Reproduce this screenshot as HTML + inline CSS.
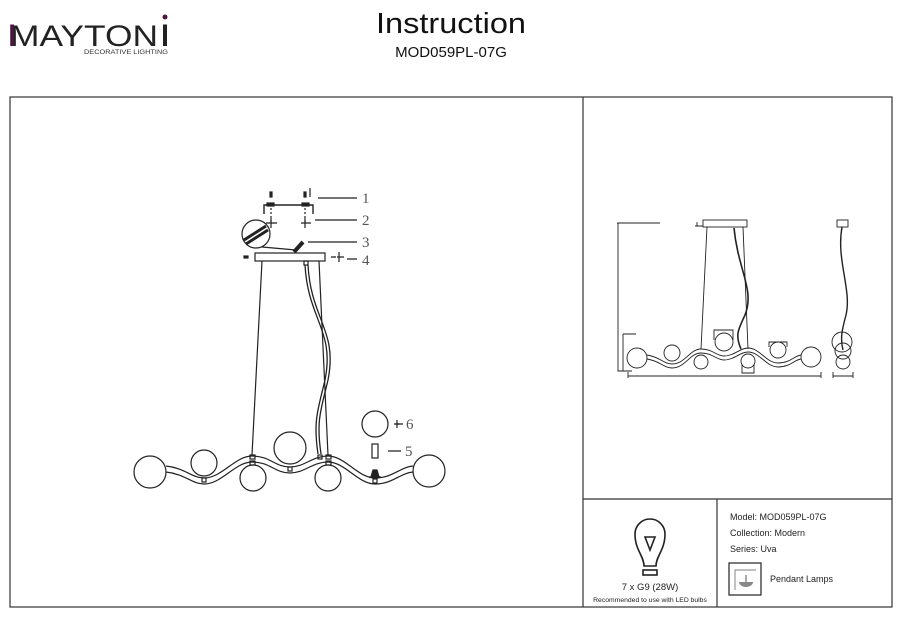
<!DOCTYPE html>
<html><head><meta charset="utf-8"><style>
html,body{margin:0;padding:0;background:#fff;}
svg{display:block;}
text{font-family:"Liberation Sans",sans-serif;}
text.serif{font-family:"Liberation Serif",serif;}
</style></head><body>
<svg width="909" height="620" viewBox="0 0 909 620" xmlns="http://www.w3.org/2000/svg">
<!-- header -->
<text x="10" y="46" font-size="30" fill="#222" textLength="148" lengthAdjust="spacingAndGlyphs">MAYTON</text>
<rect x="10.2" y="24.5" width="3.8" height="21.5" fill="#4a1840"/>
<rect x="163" y="24.5" width="4" height="21.5" fill="#222"/>
<circle cx="165" cy="17" r="2.5" fill="#4a1840"/>
<text x="84" y="54" font-size="6" fill="#333" textLength="84" lengthAdjust="spacingAndGlyphs">DECORATIVE LIGHTING</text>
<text x="451" y="33" font-size="29" fill="#111" text-anchor="middle" textLength="150" lengthAdjust="spacingAndGlyphs">Instruction</text>
<text x="451" y="57" font-size="15" fill="#111" text-anchor="middle">MOD059PL-07G</text>

<!-- frame -->
<g fill="none" stroke="#333" stroke-width="1.2">
<rect x="10" y="97" width="882" height="510"/>
<line x1="583" y1="97" x2="583" y2="607"/>
<line x1="583" y1="499" x2="892" y2="499"/>
<line x1="717" y1="499" x2="717" y2="607"/>
</g>

<!-- main drawing -->
<g fill="none" stroke="#222" stroke-width="1.2">
<path d="M264,214 V205 H313 V214" stroke-width="1.4"/>
<rect x="267" y="203" width="7" height="3" fill="#222"/>
<rect x="302" y="203" width="7" height="3" fill="#222"/>
<rect x="270" y="192" width="2" height="5" fill="#222"/>
<rect x="304" y="192" width="2" height="5" fill="#222"/>
<line x1="310" y1="188" x2="310" y2="197"/>
<line x1="271" y1="208" x2="271" y2="222" stroke-dasharray="2,2"/>
<line x1="305" y1="208" x2="305" y2="222" stroke-dasharray="2,2"/>
<path d="M266,223 H277 M271,218 V228 M301,223 H311 M305,218 V228"/>
<circle cx="256" cy="234" r="14"/>
<path d="M244,240 L266,226 M246,244 L268,230" stroke-width="3"/>
<path d="M262,247 L296,250"/>
<path d="M294,252 L303,242" stroke-width="4"/>
<rect x="255" y="253" width="70" height="8"/>
<rect x="244" y="256" width="4" height="2" fill="#222"/>
<path d="M331,257 H336 M339,252 V262 M337,257 H344"/>
<line x1="262" y1="261" x2="252" y2="455"/>
<line x1="319" y1="261" x2="328" y2="455"/>
<rect x="304" y="261" width="4" height="4"/>
<path d="M305,265 C308,320 335,330 325,380 C318,410 313,420 318,454" stroke-width="1.3"/>
<path d="M308,265 C311,320 338,330 328,380 C321,410 316,420 321,454" stroke-width="1.3"/>
<path d="M318,198 H357 M315,220 H357 M308,242 H357 M347,259 H357 M394,424 H403 M388,451 H401"/>
<circle cx="150" cy="472" r="16"/>
<circle cx="204" cy="463" r="13"/>
<circle cx="253" cy="478" r="13"/>
<circle cx="290" cy="448" r="16"/>
<circle cx="328" cy="478" r="13"/>
<circle cx="429" cy="471" r="16"/>
<circle cx="375" cy="424" r="13"/>
<path d="M166,466 C185,468 192,478 204,478 C222,478 235,456 252,456 C270,456 275,467 290,467 C305,467 312,456 328,456 C345,456 358,478 375,478 C393,478 400,467 413,466"/>
<path d="M166,472 C185,474 192,484 204,484 C222,484 235,462 252,462 C270,462 275,473 290,473 C305,473 312,462 328,462 C345,462 358,484 375,484 C393,484 400,473 413,472"/>
<rect x="202" y="478" width="4" height="4"/>
<rect x="250" y="455" width="5" height="4"/>
<rect x="250" y="461" width="5" height="4"/>
<rect x="288" y="467" width="4" height="4"/>
<rect x="326" y="455" width="5" height="4"/>
<rect x="326" y="461" width="5" height="4"/>
<rect x="373" y="479" width="4" height="4"/>
<rect x="318" y="455" width="4" height="4"/>
<rect x="372" y="444" width="6" height="14"/>
<path d="M369,477 H381 M371,477 L373,470 H377 L379,477" fill="#222"/>
<path d="M395,424 H400 M397,420 V428"/>
</g>
<g font-size="15" fill="#555">
<text class="serif" x="362" y="203">1</text>
<text class="serif" x="362" y="225">2</text>
<text class="serif" x="362" y="247">3</text>
<text class="serif" x="362" y="265">4</text>
<text class="serif" x="405" y="456">5</text>
<text class="serif" x="406" y="429">6</text>
</g>

<!-- right view -->
<g fill="none" stroke="#222" stroke-width="0.9">
<rect x="703" y="220" width="44" height="7"/>
<path d="M617,223 H660 M618,223 V371 H632 M623,334 H636 M623,334 V371"/>
<path d="M695,226 H703 M697,222 V226"/>
<line x1="707" y1="227" x2="701" y2="349"/>
<line x1="743" y1="227" x2="748" y2="349"/>
<path d="M734,228 C738,270 755,290 745,315 C738,330 735,335 741,349" stroke-width="1.6"/>
<circle cx="637" cy="358" r="10"/>
<circle cx="672" cy="353" r="8"/>
<circle cx="701" cy="362" r="7"/>
<circle cx="724" cy="342" r="9"/>
<circle cx="748" cy="361" r="7"/>
<circle cx="778" cy="350" r="8"/>
<circle cx="811" cy="357" r="10"/>
<path d="M647,355 C660,357 664,364 672,364 C685,364 690,349 701,349 C713,349 716,356 724,356 C734,356 740,348 748,348 C760,348 766,363 778,363 C790,363 794,356 801,355"/>
<path d="M647,359 C660,361 664,368 672,368 C685,368 690,353 701,353 C713,353 716,360 724,360 C734,360 740,352 748,352 C760,352 766,367 778,367 C790,367 794,360 801,359"/>
<path d="M714,340 V330 H733 V340 M769,347 V342 H787 V347 M742,365 V373 H754 V365"/>
<path d="M628,372 V378 M628,376 H821 M821,372 V378"/>
<rect x="837" y="220" width="11" height="7"/>
<path d="M842,227 C836,260 852,290 846,315 C842,330 840,338 843,350" stroke-width="1.4"/>
<circle cx="842" cy="342" r="10"/>
<circle cx="843" cy="351" r="8"/>
<circle cx="843" cy="362" r="7"/>
<path d="M833,372 V378 M833,376 H853 M853,372 V378"/>
</g>

<!-- bulb -->
<g fill="none" stroke="#222" stroke-width="1.6">
<path d="M644,566 C644,556 635,550 635,534 A15,15 0 1 1 665,534 C665,550 656,556 656,566 Z"/>
<path d="M645,537 H655 L650,550 Z"/>
<rect x="643" y="570" width="14" height="5"/>
</g>
<text x="650" y="590" font-size="9.5" fill="#222" text-anchor="middle">7 x G9 (28W)</text>
<text x="650" y="602" font-size="6.8" fill="#222" text-anchor="middle">Recommended to use with LED bulbs</text>

<g font-size="9" fill="#222">
<text x="730" y="520">Model: MOD059PL-07G</text>
<text x="730" y="536">Collection: Modern</text>
<text x="730" y="552">Series: Uva</text>
<text x="770" y="582">Pendant Lamps</text>
</g>
<rect x="729" y="563" width="32" height="32" fill="none" stroke="#222" stroke-width="1.2"/>
<path d="M735,590 V570 H756" fill="none" stroke="#999" stroke-width="1.2"/>
<path d="M739,582 H753 A7,5 0 0 1 739,582 Z" fill="#888"/>
<line x1="746" y1="575" x2="746" y2="582" stroke="#555"/>
</svg>
</body></html>
